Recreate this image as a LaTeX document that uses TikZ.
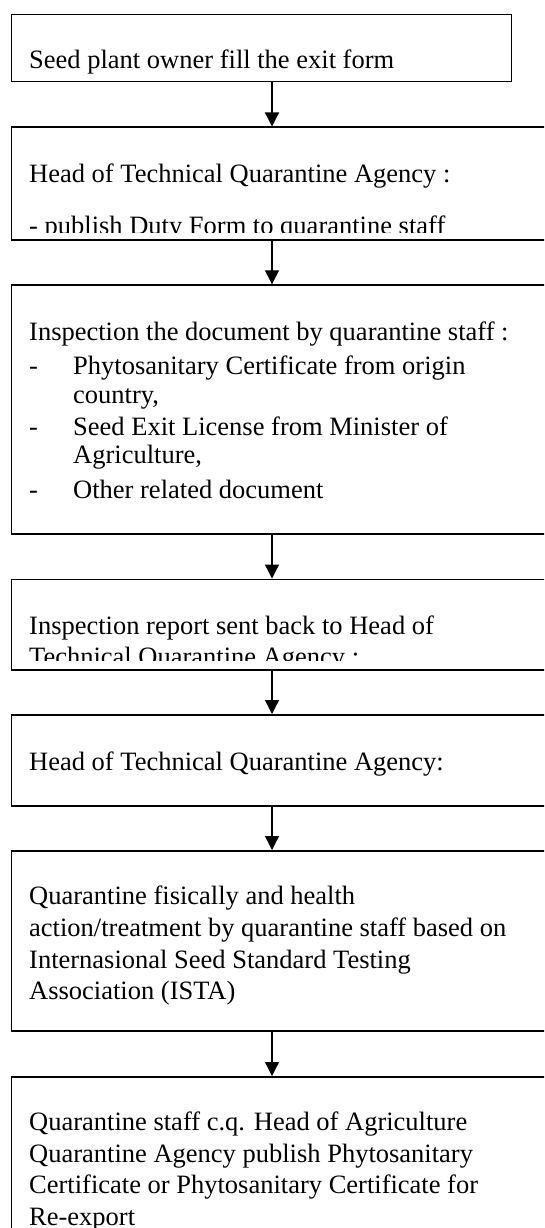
\documentclass[tikz,border=0pt]{standalone}
\usepackage{fontspec}
\setmainfont{Liberation Serif}
\usetikzlibrary{arrows.meta}
\begin{document}
\begin{tikzpicture}[x=1pt,y=-1pt,
  box/.style={draw, line width=1.5pt, inner sep=0pt, anchor=north west},
  txt/.style={anchor=base west, inner sep=0pt, font=\fontsize{26.5}{32}\selectfont},
  flow/.style={line width=1.3pt, -{Triangle[width=14pt,length=14pt]}}
]
\useasboundingbox (0,0) rectangle (544,1228);
\clip (0,0) rectangle (544,1228);

% process boxes
\node[box, minimum width=500pt, minimum height=67pt]  (b1) at (10.5,13.8)  {};
\node[box, minimum width=560pt, minimum height=112.5pt] (b2) at (10.5,126.5) {};
\node[box, minimum width=560pt, minimum height=249pt] (b3) at (10.5,284.3) {};
\node[box, minimum width=560pt, minimum height=90.5pt] (b4) at (10.5,578.5) {};
\node[box, minimum width=560pt, minimum height=91pt]  (b5) at (10.5,714)   {};
\node[box, minimum width=560pt, minimum height=180pt] (b6) at (10.5,850)   {};
\node[box, minimum width=560pt, minimum height=220pt] (b7) at (10.5,1076)  {};

% box texts
\node[txt] (t1) at (29,69) {Seed plant owner fill the exit form};

\begin{scope}
  \clip (b2.north west) rectangle ([yshift=8pt]b2.south east);
  \node[txt] (t2a) at (29,182) {Head of Technical Quarantine Agency :};
  \node[txt] (t2b) at (29,234) {- publish Duty Form to quarantine staff};
\end{scope}

\node[txt] (t3a) at (29,340) {Inspection the document by quarantine staff :};
\node[txt] (d3a) at (29,374) {-};
\node[txt] (t3b) at (73,374) {Phytosanitary Certificate from origin};
\node[txt] (t3c) at (73,403) {country,};
\node[txt] (d3b) at (29,435) {-};
\node[txt] (t3d) at (73,435) {Seed Exit License from Minister of};
\node[txt] (t3e) at (73,463) {Agriculture,};
\node[txt] (d3c) at (29,498) {-};
\node[txt] (t3f) at (73,498) {Other related document};

\begin{scope}
  \clip (b4.north west) rectangle ([yshift=10pt]b4.south east);
  \node[txt] (t4a) at (29,634.5) {Inspection report sent back to Head of};
  \node[txt] (t4b) at (29,665) {Technical Quarantine Agency :};
\end{scope}

\node[txt] (t5) at (29,770) {Head of Technical Quarantine Agency:};

\node[txt] (t6a) at (29,904) {Quarantine fisically and health};
\node[txt] (t6b) at (29,936) {action/treatment by quarantine staff based on};
\node[txt] (t6c) at (29,968) {Internasional Seed Standard Testing};
\node[txt] (t6d) at (29,999) {Association (ISTA)};

\node[txt] (t7a) at (29,1130) {Quarantine staff c.q. Head of Agriculture};
\node[txt] (t7b) at (29,1162) {Quarantine Agency publish Phytosanitary};
\node[txt] (t7c) at (29,1193) {Certificate or Phytosanitary Certificate for};
\node[txt] (t7d) at (29,1225) {Re-export};

% connectors down the common axis
\coordinate (spine) at (272,0);
\draw[flow] (b1.south -| spine) -- (b2.north -| spine);
\draw[flow] (b2.south -| spine) -- (b3.north -| spine);
\draw[flow] (b3.south -| spine) -- (b4.north -| spine);
\draw[flow] (b4.south -| spine) -- (b5.north -| spine);
\draw[flow] (b5.south -| spine) -- (b6.north -| spine);
\draw[flow] (b6.south -| spine) -- (b7.north -| spine);
\end{tikzpicture}
\end{document}
